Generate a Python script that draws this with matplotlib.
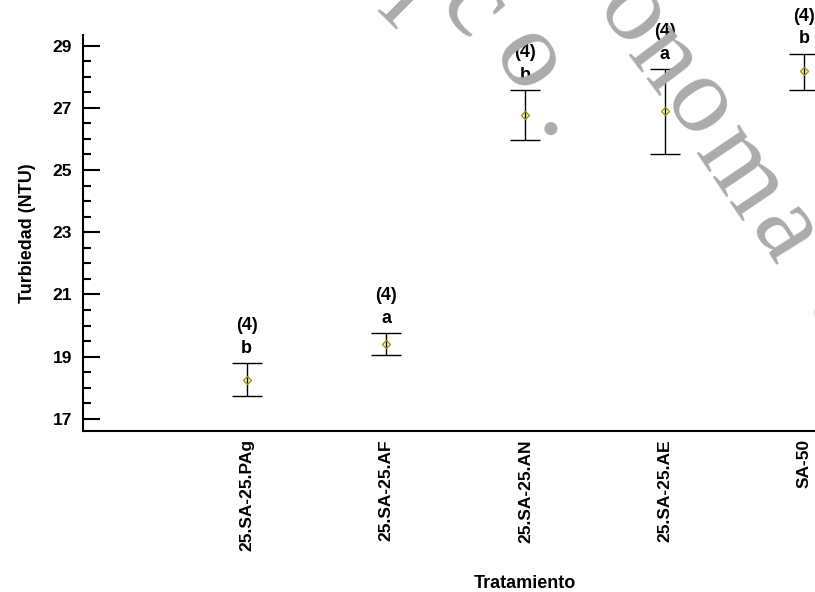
import matplotlib
matplotlib.use("Agg")
import matplotlib.pyplot as plt
import numpy as np

# === Data ===
tratamientos = ["25.SA-25.PAg", "25.SA-25.AF", "25.SA-25.AN", "25.SA-25.AE", "SA-50"]
medias = [18.26, 19.41, 26.78, 26.88, 28.18]
lim_inf = [17.75, 19.06, 25.98, 25.53, 27.58]
lim_sup = [18.79, 19.76, 27.57, 28.23, 28.73]
grupos = ["b", "a", "b", "a", "b"]
n_obs = [4, 4, 4, 4, 4]

plt.rcParams["font.family"] = ["Liberation Sans", "DejaVu Sans"]
plt.rcParams["font.weight"] = "bold"

fig = plt.figure(figsize=(8.15, 5.92), dpi=100)
# axes runs past the right edge, as in the cropped reference
ax = fig.add_axes([0.1018, 0.272, 0.9706, 0.669])

# === Watermark (grey serif letters on an arc, behind the data) ===
marca = [("i", 405, 2, -45), ("c", 472, 8, -50), ("o", 527, 62, -58),
         (".", 566, 124, -62),
         ("o", 632, 15, -52), ("n", 663, 60, -53), ("o", 698, 107, -55),
         ("m", 740, 173, -56), ("a", 784, 233, -58), ("d", 840, 316, -64)]
for letra, px, py, rot in marca:
    fig.text(px / 815, 1 - py / 592, letra, fontsize=80, family="Liberation Serif",
             weight="normal", color="#ababab", rotation=rot, rotation_mode="anchor",
             ha="center", va="center", zorder=0)

# === Means with intervals ===
x = np.arange(len(tratamientos))
medias = np.array(medias)
yerr = [medias - np.array(lim_inf), np.array(lim_sup) - medias]
ax.errorbar(x, medias, yerr=yerr, fmt="D", ms=4.5, mfc="none", mec="#9a9a00", mew=1,
            ecolor="black", elinewidth=1, capsize=10.5, capthick=1, zorder=3)

for xi, sup, g, n in zip(x, lim_sup, grupos, n_obs):
    ax.annotate(g, (xi, sup), xytext=(0, 7.5), textcoords="offset points",
                ha="center", va="baseline", fontsize=13, fontweight="bold")
    ax.annotate(f"({n})", (xi, sup), xytext=(0, 24), textcoords="offset points",
                ha="center", va="baseline", fontsize=13, fontweight="bold")

# === Axes styling ===
ax.set_xlim(-1.174, 4.5)
ax.set_ylim(16.615, 29.34)
ax.set_yticks(np.arange(17, 30, 2))
ax.set_yticks(np.arange(17, 29.5, 0.5), minor=True)
ax.set_xticks(x)
ax.set_xticklabels(tratamientos, rotation=90, fontsize=12.5, fontweight="bold")
ax.tick_params(axis="y", which="major", direction="in", length=12.5, width=1.5,
               labelsize=12.5, pad=8)
ax.tick_params(axis="y", which="minor", direction="in", length=6, width=1.5)
ax.tick_params(axis="x", length=0, pad=6)
for s in ["top", "right"]:
    ax.spines[s].set_visible(False)
for s in ["left", "bottom"]:
    ax.spines[s].set_linewidth(1.5)
ax.patch.set_alpha(0)

ax.set_ylabel("Turbiedad (NTU)", fontsize=13, fontweight="bold", labelpad=12)
fig.text(525 / 815, 1 - 583 / 592, "Tratamiento", fontsize=13, fontweight="bold",
         ha="center", va="center")

fig.savefig("out.png", dpi=100)
